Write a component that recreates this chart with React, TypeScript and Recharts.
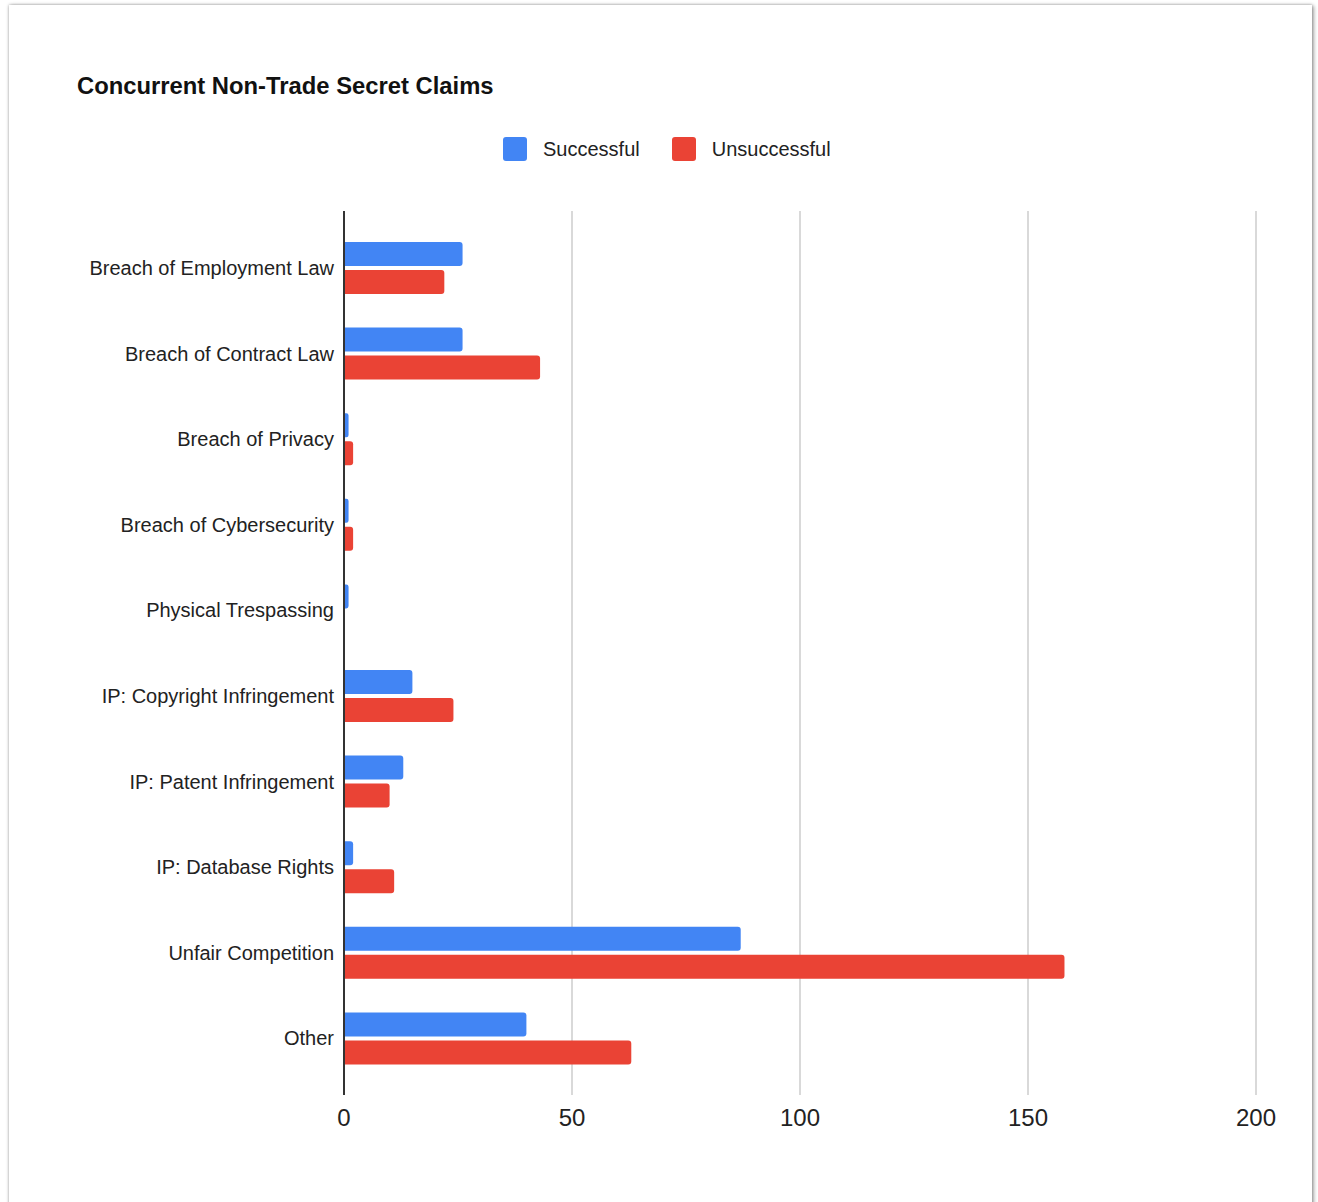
import React from "react";
import { BarChart, Bar, XAxis, YAxis, CartesianGrid, Legend } from "recharts";

const categories = [
  "Breach of Employment Law",
  "Breach of Contract Law",
  "Breach of Privacy",
  "Breach of Cybersecurity",
  "Physical Trespassing",
  "IP: Copyright Infringement",
  "IP: Patent Infringement",
  "IP: Database Rights",
  "Unfair Competition",
  "Other",
];
const successful = [26, 26, 1, 1, 1, 15, 13, 2, 87, 40];
const unsuccessful = [22, 43, 2, 2, 0, 24, 10, 11, 158, 63];
const xTicks = [0, 50, 100, 150, 200];

const BLUE = "#4285F4";
const RED = "#EA4335";

const data = categories.map((name, i) => ({
  name,
  Successful: successful[i],
  Unsuccessful: unsuccessful[i],
}));

const FONT = "'Liberation Sans', Arial, Helvetica, sans-serif";

const LegendContent = () => (
  <div style={{ display: "flex", alignItems: "center", fontFamily: FONT, fontSize: 20, color: "#222", paddingLeft: 494, height: 24 }}>
    {[
      { label: "Successful", color: BLUE },
      { label: "Unsuccessful", color: RED },
    ].map((it, i) => (
      <div key={it.label} style={{ display: "flex", alignItems: "center", marginRight: i === 0 ? 32 : 0 }}>
        <span style={{ display: "inline-block", width: 24, height: 24, borderRadius: 3, background: it.color, marginRight: 16 }} />
        <span>{it.label}</span>
      </div>
    ))}
  </div>
);

export default function App() {
  return (
    <div
      style={{
        position: "absolute",
        left: 9,
        top: 5,
        width: 1303,
        height: 1240,
        background: "#fff",
        boxShadow: "0 0 3px rgba(0,0,0,0.35), 2px 1px 4px rgba(0,0,0,0.3)",
        fontFamily: FONT,
      }}
    >
      <div
        style={{
          position: "absolute",
          left: 68,
          top: 66,
          fontSize: 23.8,
          fontWeight: 700,
          color: "#111",
          lineHeight: "30px",
          whiteSpace: "nowrap",
        }}
      >
        Concurrent Non-Trade Secret Claims
      </div>
      <BarChart
        width={1303}
        height={1197}
        data={data}
        layout="vertical"
        margin={{ top: 182, right: 56, bottom: 67, left: 0 }}
        barSize={24}
        barGap={4}
      >
        <CartesianGrid horizontal={false} vertical={true} stroke="#cccccc" strokeWidth={1.5} />
        <XAxis
          type="number"
          domain={[0, 200]}
          ticks={xTicks}
          axisLine={false}
          tickLine={false}
          tickSize={0}
          tickMargin={14}
          height={40}
          tick={{ fontSize: 24, fill: "#222", fontFamily: FONT }}
        />
        <YAxis
          type="category"
          dataKey="name"
          width={335}
          padding={{ top: 14, bottom: 14 }}
          axisLine={{ stroke: "#333", strokeWidth: 2 }}
          tickLine={false}
          tickSize={0}
          tickMargin={10}
          interval={0}
          tick={{ fontSize: 20, fill: "#222", fontFamily: FONT }}
        />
        <Legend
          verticalAlign="top"
          content={<LegendContent />}
          wrapperStyle={{ position: "absolute", top: 132, left: 0, width: 1303 }}
        />
        <Bar dataKey="Successful" fill={BLUE} radius={[0, 3, 3, 0]} isAnimationActive={false} />
        <Bar dataKey="Unsuccessful" fill={RED} radius={[0, 3, 3, 0]} isAnimationActive={false} />
      </BarChart>
    </div>
  );
}
